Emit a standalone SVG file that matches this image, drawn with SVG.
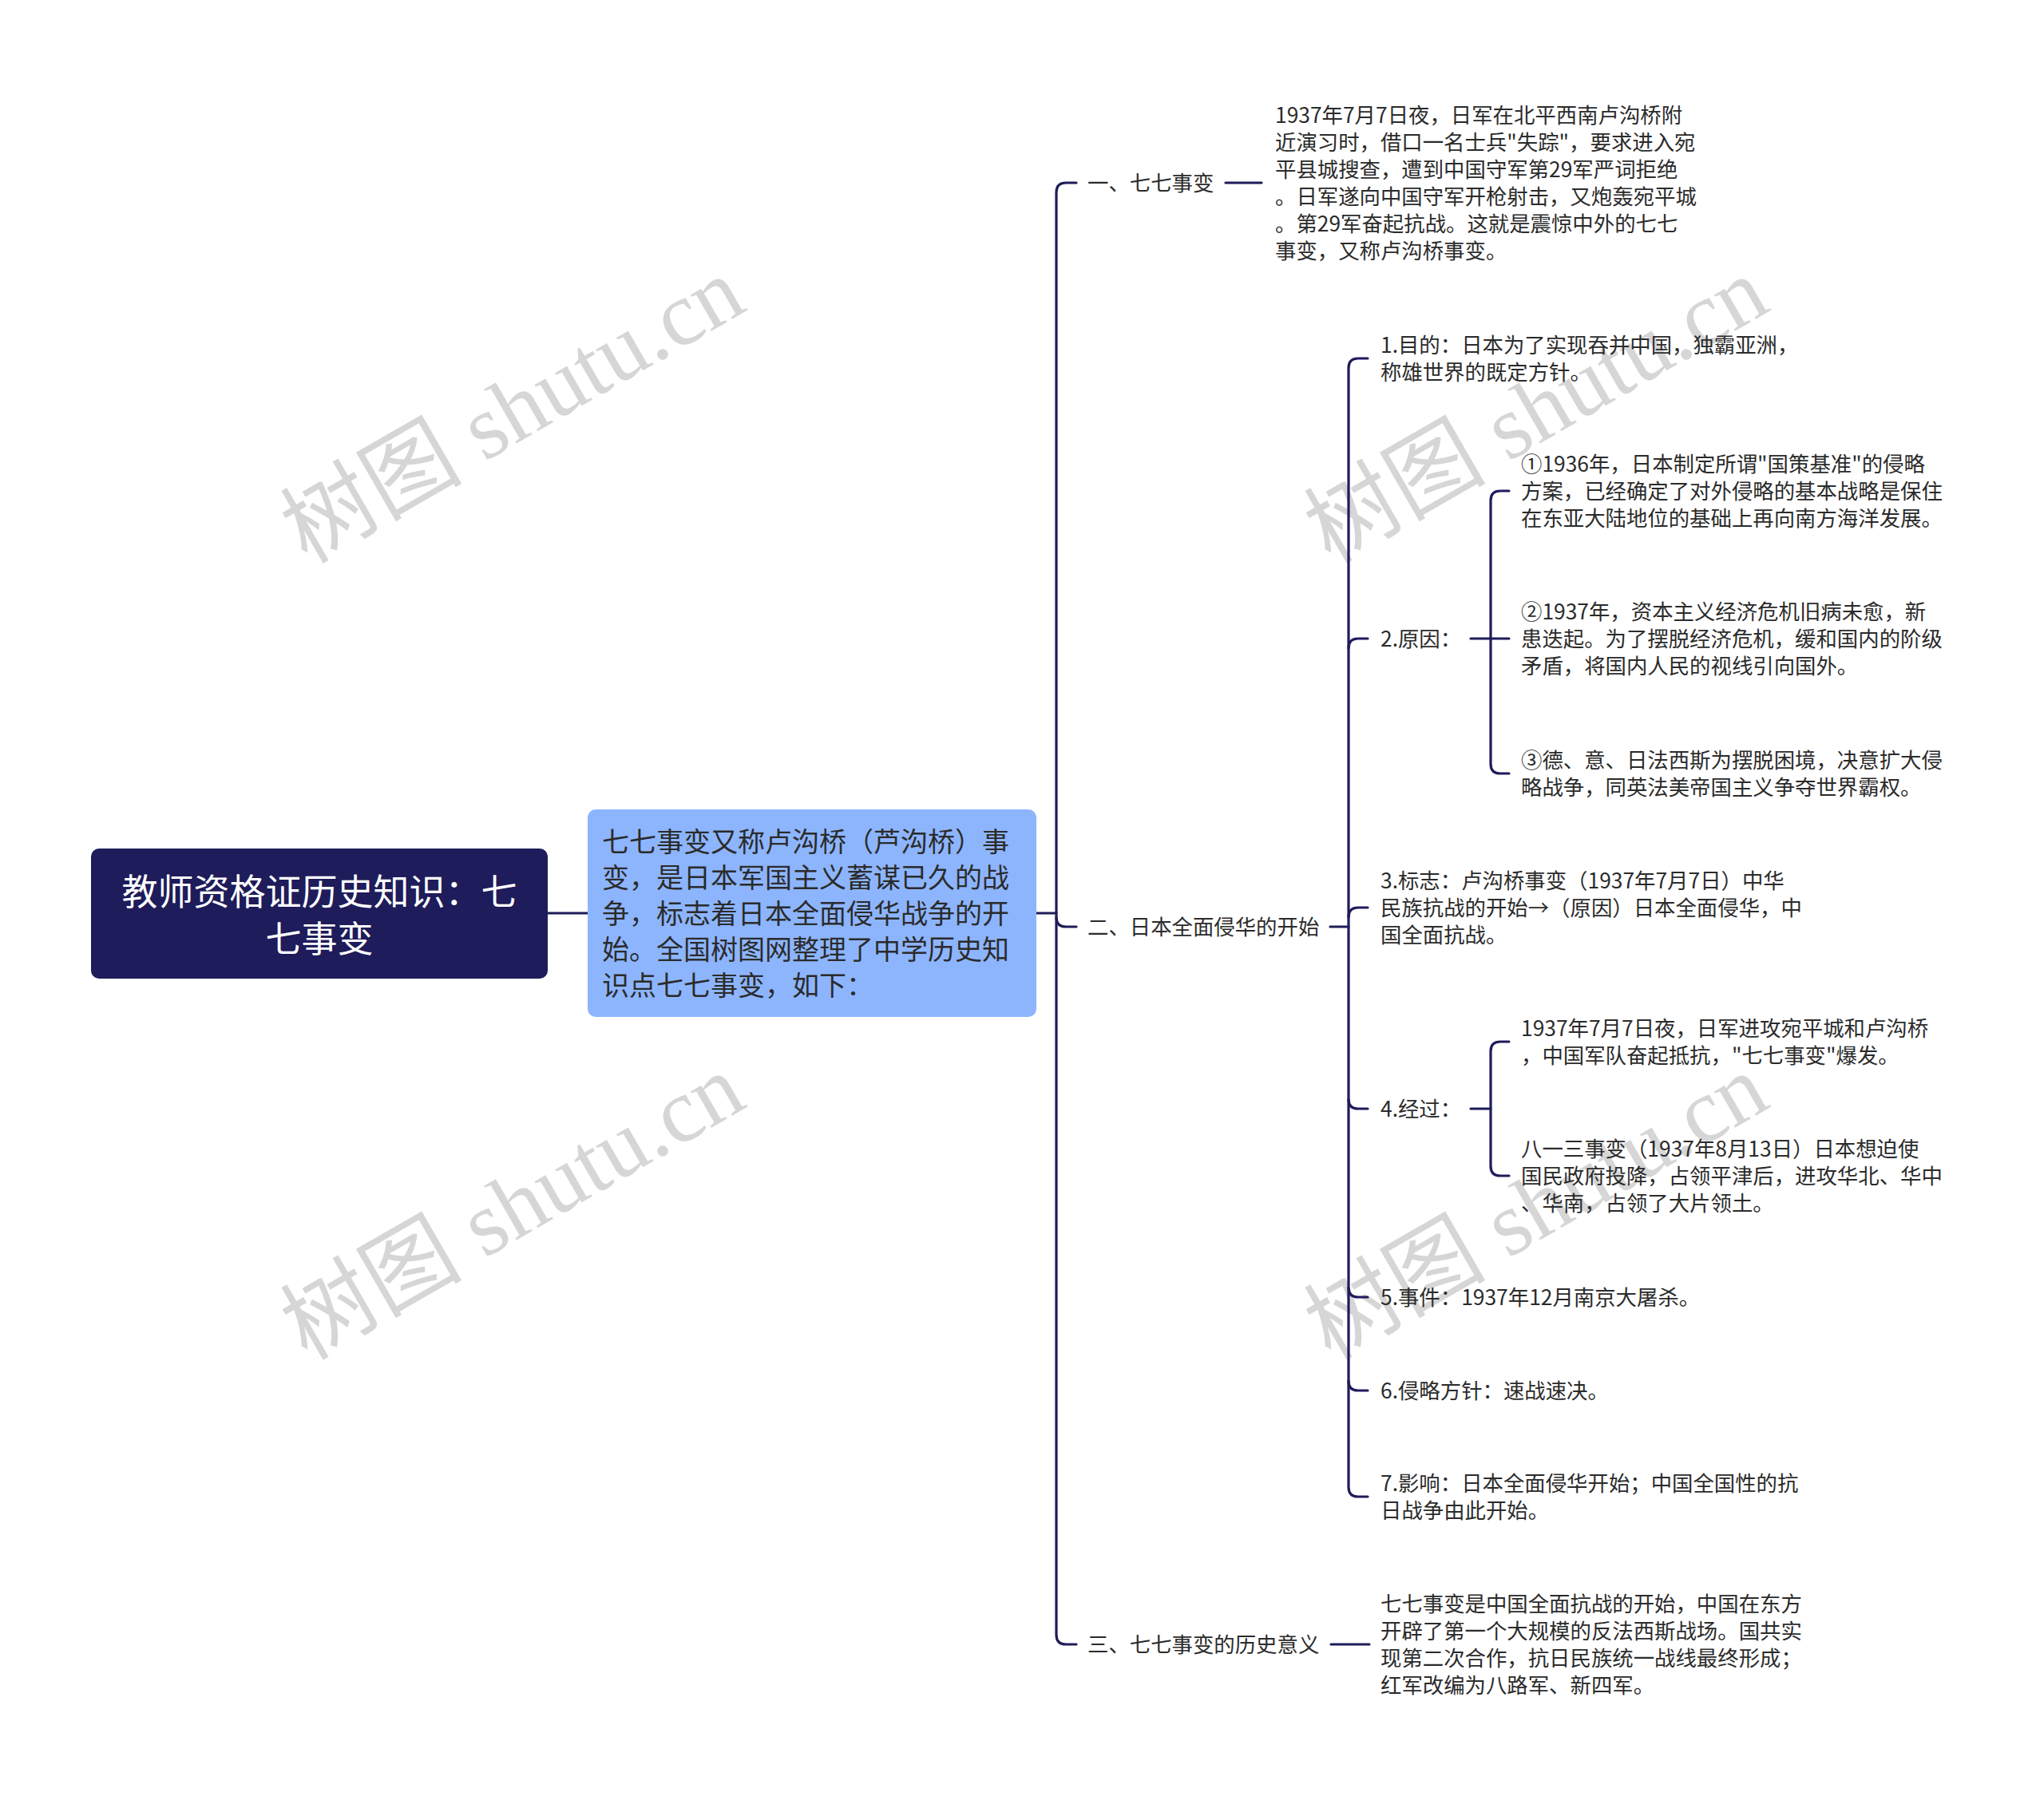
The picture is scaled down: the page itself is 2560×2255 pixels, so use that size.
<svg xmlns="http://www.w3.org/2000/svg" width="2560" height="2255" viewBox="0 0 2560 2255">
<style>
.t{font-family:"Noto Sans CJK SC","Noto Sans",sans-serif;font-size:26.4px;fill:#2b2b2b;dominant-baseline:central;transform:translateY(-2px)}
.wm{font-family:"Liberation Serif","Noto Sans CJK SC",serif;font-size:114px;fill:#d6d6d6;text-anchor:middle;dominant-baseline:central}
.ln{fill:none;stroke:#1e1c5a;stroke-width:3.2;stroke-linecap:round}
</style>
<rect width="2560" height="2255" fill="#ffffff"/>
<g id="watermarks">
<text class="wm" transform="translate(642,514) rotate(-30)">树图 shutu.cn</text>
<text class="wm" transform="translate(642,1512) rotate(-30)">树图 shutu.cn</text>
<text class="wm" transform="translate(1924,514) rotate(-30)">树图 shutu.cn</text>
<text class="wm" transform="translate(1924,1512) rotate(-30)">树图 shutu.cn</text>
</g>
<g id="connectors">
<path class="ln" d="M686,1144 H736"/>
<path class="ln" d="M1298,1144 H1323"/>
<path class="ln" d="M1348,229 H1335 Q1323,229 1323,241 V2048 Q1323,2060 1335,2060 H1348"/>
<path class="ln" d="M1323,1149 Q1323,1161 1335,1161 H1348"/>
<path class="ln" d="M1535,229 H1580"/>
<path class="ln" d="M1666,1161 H1689"/>
<path class="ln" d="M1667,2060 H1715"/>
<path class="ln" d="M1713,449 H1701 Q1689,449 1689,461 V1863 Q1689,1875 1701,1875 H1713"/>
<path class="ln" d="M1689,812 Q1689,800 1701,800 H1713"/>
<path class="ln" d="M1689,1149 Q1689,1137 1701,1137 H1713"/>
<path class="ln" d="M1689,1377 Q1689,1389 1701,1389 H1713"/>
<path class="ln" d="M1689,1613 Q1689,1625 1701,1625 H1713"/>
<path class="ln" d="M1689,1730 Q1689,1742 1701,1742 H1713"/>
<path class="ln" d="M1842,800 H1867"/>
<path class="ln" d="M1890,615 H1879 Q1867,615 1867,627 V957 Q1867,969 1879,969 H1890"/>
<path class="ln" d="M1867,800 H1890"/>
<path class="ln" d="M1842,1389 H1867"/>
<path class="ln" d="M1890,1305 H1879 Q1867,1305 1867,1317 V1461 Q1867,1473 1879,1473 H1890"/>
</g>
<g id="root">
<rect x="114" y="1063" width="572" height="163" rx="10" fill="#1e1c5a"/>
<text x="400" y="1114" font-family="Noto Sans CJK SC, sans-serif" font-size="45" fill="#ffffff" text-anchor="middle" dominant-baseline="central">教师资格证历史知识：七</text>
<text x="400" y="1173" font-family="Noto Sans CJK SC, sans-serif" font-size="45" fill="#ffffff" text-anchor="middle" dominant-baseline="central">七事变</text>
</g>
<g id="summary">
<rect x="736" y="1014" width="562" height="260" rx="10" fill="#8db5fe"/>
<text class="t" style="font-size:34px" x="754" y="1054">七七事变又称卢沟桥（芦沟桥）事</text>
<text class="t" style="font-size:34px" x="754" y="1099">变，是日本军国主义蓄谋已久的战</text>
<text class="t" style="font-size:34px" x="754" y="1144">争，标志着日本全面侵华战争的开</text>
<text class="t" style="font-size:34px" x="754" y="1189">始。全国树图网整理了中学历史知</text>
<text class="t" style="font-size:34px" x="754" y="1234">识点七七事变，如下：</text>
</g>
<g id="b1">
<text class="t" x="1362" y="229">一、七七事变</text>
</g>
<g id="b1-detail">
<text class="t" x="1597" y="144">1937年7月7日夜，日军在北平西南卢沟桥附</text>
<text class="t" x="1597" y="178">近演习时，借口一名士兵"失踪"，要求进入宛</text>
<text class="t" x="1597" y="212">平县城搜查，遭到中国守军第29军严词拒绝</text>
<text class="t" x="1597" y="246">。日军遂向中国守军开枪射击，又炮轰宛平城</text>
<text class="t" x="1597" y="280">。第29军奋起抗战。这就是震惊中外的七七</text>
<text class="t" x="1597" y="314">事变，又称卢沟桥事变。</text>
</g>
<g id="b2">
<text class="t" x="1362" y="1161">二、日本全面侵华的开始</text>
</g>
<g id="b2-1">
<text class="t" x="1729" y="432">1.目的：日本为了实现吞并中国，独霸亚洲，</text>
<text class="t" x="1729" y="466">称雄世界的既定方针。</text>
</g>
<g id="b2-2">
<text class="t" x="1729" y="800">2.原因：</text>
</g>
<g id="b2-2-1">
<text class="t" x="1905" y="581">①1936年，日本制定所谓"国策基准"的侵略</text>
<text class="t" x="1905" y="615">方案，已经确定了对外侵略的基本战略是保住</text>
<text class="t" x="1905" y="649">在东亚大陆地位的基础上再向南方海洋发展。</text>
</g>
<g id="b2-2-2">
<text class="t" x="1905" y="766">②1937年，资本主义经济危机旧病未愈，新</text>
<text class="t" x="1905" y="800">患迭起。为了摆脱经济危机，缓和国内的阶级</text>
<text class="t" x="1905" y="834">矛盾，将国内人民的视线引向国外。</text>
</g>
<g id="b2-2-3">
<text class="t" x="1905" y="952">③德、意、日法西斯为摆脱困境，决意扩大侵</text>
<text class="t" x="1905" y="986">略战争，同英法美帝国主义争夺世界霸权。</text>
</g>
<g id="b2-3">
<text class="t" x="1729" y="1103">3.标志：卢沟桥事变（1937年7月7日）中华</text>
<text class="t" x="1729" y="1137">民族抗战的开始→（原因）日本全面侵华，中</text>
<text class="t" x="1729" y="1171">国全面抗战。</text>
</g>
<g id="b2-4">
<text class="t" x="1729" y="1389">4.经过：</text>
</g>
<g id="b2-4-1">
<text class="t" x="1905" y="1288">1937年7月7日夜，日军进攻宛平城和卢沟桥</text>
<text class="t" x="1905" y="1322">，中国军队奋起抵抗，"七七事变"爆发。</text>
</g>
<g id="b2-4-2">
<text class="t" x="1905" y="1439">八一三事变（1937年8月13日）日本想迫使</text>
<text class="t" x="1905" y="1473">国民政府投降，占领平津后，进攻华北、华中</text>
<text class="t" x="1905" y="1507">、华南，占领了大片领土。</text>
</g>
<g id="b2-5">
<text class="t" x="1729" y="1625">5.事件：1937年12月南京大屠杀。</text>
</g>
<g id="b2-6">
<text class="t" x="1729" y="1742">6.侵略方针：速战速决。</text>
</g>
<g id="b2-7">
<text class="t" x="1729" y="1858">7.影响：日本全面侵华开始；中国全国性的抗</text>
<text class="t" x="1729" y="1892">日战争由此开始。</text>
</g>
<g id="b3">
<text class="t" x="1362" y="2060">三、七七事变的历史意义</text>
</g>
<g id="b3-detail">
<text class="t" x="1729" y="2009">七七事变是中国全面抗战的开始，中国在东方</text>
<text class="t" x="1729" y="2043">开辟了第一个大规模的反法西斯战场。国共实</text>
<text class="t" x="1729" y="2077">现第二次合作，抗日民族统一战线最终形成；</text>
<text class="t" x="1729" y="2111">红军改编为八路军、新四军。</text>
</g>
</svg>
